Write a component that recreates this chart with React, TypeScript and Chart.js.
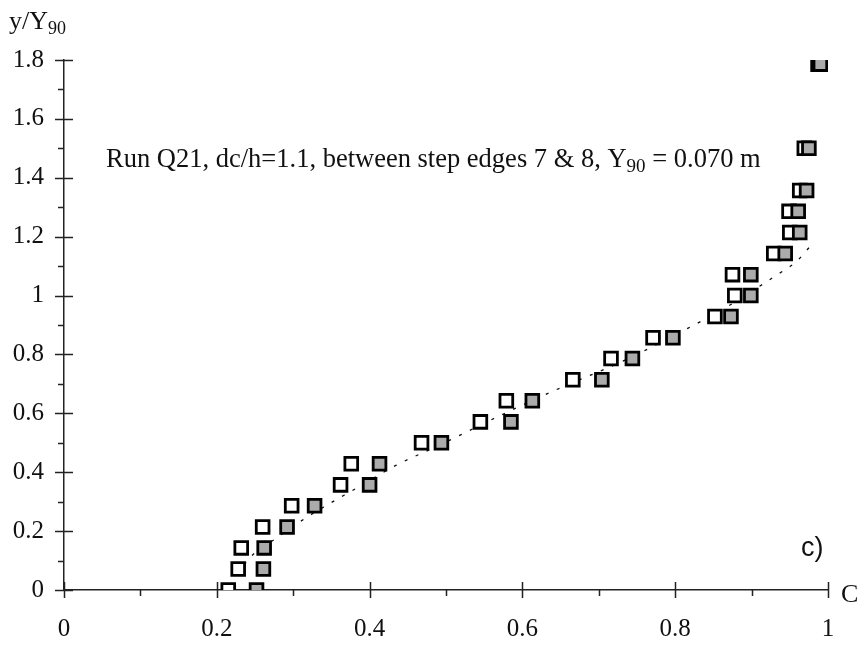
import React, { useEffect, useRef } from "react";
import { Chart, registerables } from "chart.js";

Chart.register(...registerables);

// ---- data ----
const rowY = [
  0, 0.0714, 0.143, 0.214, 0.286, 0.357, 0.429, 0.5, 0.571, 0.643, 0.714,
  0.786, 0.857, 0.929, 1.0, 1.071, 1.143, 1.214, 1.286, 1.357, 1.5, 1.786,
];
const openC = [
  0.215, 0.228, 0.232, 0.26, 0.298, 0.362, 0.376, 0.468, 0.545, 0.579, 0.666,
  0.716, 0.771, 0.852, 0.878, 0.875, 0.929, 0.95, 0.949, 0.963, 0.969, 0.987,
];
const grayC = [
  0.252, 0.261, 0.262, 0.292, 0.328, 0.4, 0.413, 0.494, 0.585, 0.613, 0.704,
  0.744, 0.797, 0.873, 0.899, 0.899, 0.944, 0.963, 0.961, 0.972, 0.975, 0.99,
];
const curveC = [
  0.228, 0.24, 0.28, 0.31, 0.34, 0.383, 0.435, 0.49, 0.564, 0.638, 0.737,
  0.81, 0.87, 0.933, 0.958, 0.976,
];
const curveY = [
  0.05, 0.1, 0.18, 0.234, 0.282, 0.346, 0.424, 0.49, 0.584, 0.673, 0.784,
  0.88, 0.965, 1.07, 1.114, 1.165,
];
const xTicks = [0, 0.2, 0.4, 0.6, 0.8, 1];
const xMinor = [0.1, 0.3, 0.5, 0.7, 0.9];
const yTicks = [0, 0.2, 0.4, 0.6, 0.8, 1, 1.2, 1.4, 1.6, 1.8];
const yMinor = [0.1, 0.3, 0.5, 0.7, 0.9, 1.1, 1.3, 1.5, 1.7];
const xTickLabels = ["0", "0.2", "0.4", "0.6", "0.8", "1"];
const yTickLabels = ["0", "0.2", "0.4", "0.6", "0.8", "1", "1.2", "1.4", "1.6", "1.8"];

const SERIF = "'Liberation Serif', 'Times New Roman', serif";
const SANS = "'Liberation Sans', Arial, sans-serif";

const decorPlugin = {
  id: "decor",
  afterDraw(chart: any) {
    const { ctx, scales, chartArea } = chart;
    const xs = scales.x;
    const ys = scales.y;
    const ax = chartArea.left;
    const ay = chartArea.bottom;
    ctx.save();
    ctx.strokeStyle = "#222";
    ctx.lineWidth = 1.5;
    ctx.beginPath();
    xTicks.forEach((v) => {
      const p = Math.round(xs.getPixelForValue(v)) + 0.5;
      ctx.moveTo(p, ay - 8);
      ctx.lineTo(p, ay + 8);
    });
    xMinor.forEach((v) => {
      const p = Math.round(xs.getPixelForValue(v)) + 0.5;
      ctx.moveTo(p, ay);
      ctx.lineTo(p, ay + 6);
    });
    yTicks.forEach((v) => {
      const p = Math.round(ys.getPixelForValue(v)) + 0.5;
      ctx.moveTo(ax - 9, p);
      ctx.lineTo(ax + 9, p);
    });
    yMinor.forEach((v) => {
      const p = Math.round(ys.getPixelForValue(v)) + 0.5;
      ctx.moveTo(ax - 6, p);
      ctx.lineTo(ax, p);
    });
    ctx.stroke();

    ctx.fillStyle = "#111";
    ctx.textBaseline = "alphabetic";
    ctx.textAlign = "left";
    // y axis title
    ctx.font = `26px ${SERIF}`;
    ctx.fillText("y/Y", 9, 29);
    let w = ctx.measureText("y/Y").width;
    ctx.font = `18px ${SERIF}`;
    ctx.fillText("90", 9 + w, 34);

    // annotation
    const a1 = "Run Q21, dc/h=1.1, between step edges 7 & 8, Y";
    const a2 = "90";
    const a3 = " = 0.070 m";
    let x = 106;
    ctx.font = `26.5px ${SERIF}`;
    ctx.fillText(a1, x, 167);
    x += ctx.measureText(a1).width;
    ctx.font = `19px ${SERIF}`;
    ctx.fillText(a2, x, 172);
    x += ctx.measureText(a2).width;
    ctx.font = `26.5px ${SERIF}`;
    ctx.fillText(a3, x, 167);

    // x axis title
    ctx.font = `26px ${SERIF}`;
    ctx.fillText("C", 841, 602);

    // panel label
    ctx.font = `27px ${SANS}`;
    ctx.fillText("c)", 801, 556);
    ctx.restore();
  },
};

export default function App() {
  const ref = useRef<HTMLCanvasElement | null>(null);
  useEffect(() => {
    document.body.style.margin = "0";
    const canvas = ref.current;
    if (!canvas) return;
    const chart = new Chart(canvas, {
      type: "scatter",
      data: {
        datasets: [
          {
            label: "curve",
            data: curveC.map((c, i) => ({ x: c, y: curveY[i] })),
            showLine: true,
            pointRadius: 0,
            borderColor: "#111",
            borderWidth: 1.3,
            borderDash: [3, 9],
            cubicInterpolationMode: "monotone",
            order: 3,
          } as any,
          {
            label: "open",
            data: openC.map((c, i) => ({ x: c, y: rowY[i] })),
            pointStyle: "rect",
            pointRadius: 9,
            backgroundColor: "#ffffff",
            borderColor: "#000000",
            borderWidth: 2.8,
            order: 2,
          },
          {
            label: "gray",
            data: grayC.map((c, i) => ({ x: c, y: rowY[i] })),
            pointStyle: "rect",
            pointRadius: 9,
            backgroundColor: "#ababab",
            borderColor: "#000000",
            borderWidth: 2.8,
            order: 1,
          },
        ],
      },
      options: {
        responsive: false,
        animation: false,
        devicePixelRatio: 1,
        layout: { padding: { top: 60, right: 34, left: 0, bottom: 0 } },
        plugins: {
          legend: { display: false },
          tooltip: { enabled: false },
        },
        elements: { point: { hoverRadius: 9 } },
        scales: {
          x: {
            type: "linear",
            min: 0,
            max: 1,
            afterFit: (s: any) => {
              s.height = 55;
            },
            afterBuildTicks: (s: any) => {
              s.ticks = xTicks.map((v) => ({ value: v }));
            },
            grid: { display: false, drawTicks: false },
            border: { display: true, color: "#222", width: 1.5 },
            ticks: {
              padding: 24,
              color: "#111",
              font: { family: SERIF, size: 25 },
              callback: (_v: any, i: number) => xTickLabels[i],
            },
          },
          y: {
            type: "linear",
            min: 0,
            max: 1.8,
            afterFit: (s: any) => {
              s.width = 64;
            },
            afterBuildTicks: (s: any) => {
              s.ticks = yTicks.map((v) => ({ value: v }));
            },
            grid: { display: false, drawTicks: false },
            border: { display: true, color: "#222", width: 1.5 },
            ticks: {
              padding: 20,
              color: "#111",
              font: { family: SERIF, size: 25 },
              callback: (_v: any, i: number) => yTickLabels[i],
            },
          },
        },
      },
      plugins: [decorPlugin],
    });
    return () => chart.destroy();
  }, []);
  return (
    <div style={{ width: 862, height: 645 }}>
      <canvas ref={ref} width={862} height={645} />
    </div>
  );
}
